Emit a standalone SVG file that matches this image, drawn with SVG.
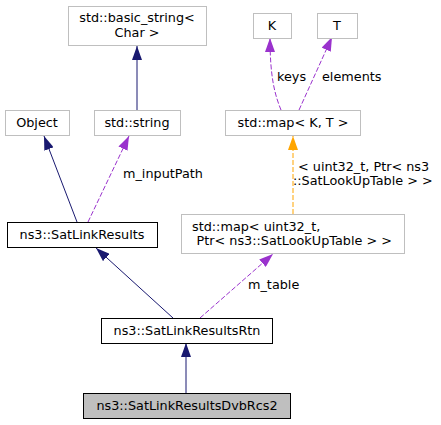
<svg xmlns="http://www.w3.org/2000/svg" width="441" height="425" viewBox="0 0 441 425">
<style>
text{font-family:"DejaVu Sans",sans-serif;font-size:12.8px;fill:#000}
.c{text-anchor:middle}
.box{fill:#fff;stroke:#bfbfbf;stroke-width:1}
.bk{fill:#fff;stroke:#000;stroke-width:1}
.cur{fill:#bfbfbf;stroke:#000;stroke-width:1}
.nv{fill:none;stroke:#191970;stroke-width:1}
.pu{fill:none;stroke:#9a32cd;stroke-width:1;stroke-dasharray:5,2}
.or{fill:none;stroke:#ffa500;stroke-width:1;stroke-dasharray:5,2}
</style>
<defs>
<marker id="an" markerUnits="userSpaceOnUse" markerWidth="14" markerHeight="10" viewBox="0 0 14 10" refX="14" refY="5" orient="auto"><path d="M0,0L14,5L0,10z" fill="#191970"/></marker>
<marker id="ap" markerUnits="userSpaceOnUse" markerWidth="14" markerHeight="10" viewBox="0 0 14 10" refX="14" refY="5" orient="auto"><path d="M0,0L14,5L0,10z" fill="#9a32cd"/></marker>
<marker id="ao" markerUnits="userSpaceOnUse" markerWidth="14" markerHeight="10" viewBox="0 0 14 10" refX="14" refY="5" orient="auto"><path d="M0,0L14,5L0,10z" fill="#ffa500"/></marker>
</defs>
<g id="edges">
<path class="nv" d="M137,110L137,46" marker-end="url(#an)"/>
<path class="nv" d="M77,222L44,136" marker-end="url(#an)"/>
<path class="pu" d="M88,222L129,136" marker-end="url(#ap)"/>
<path class="nv" d="M173,318L96,248" marker-end="url(#an)"/>
<path class="pu" d="M200,318L273,254" marker-end="url(#ap)"/>
<path class="or" d="M293,214L293,136" marker-end="url(#ao)"/>
<path class="pu" d="M281,110C275,95 270,78 270,38" marker-end="url(#ap)"/>
<path class="pu" d="M299,110L332,37" marker-end="url(#ap)"/>
<path class="nv" d="M186,393L186,343" marker-end="url(#an)"/>
<text x="123" y="178">m_inputPath</text>
<text x="277" y="81">keys</text>
<text x="322" y="81">elements</text>
<text x="298" y="171">&lt; uint32_t, Ptr&lt; ns3</text>
<text x="293" y="185">::SatLookUpTable &gt; &gt;</text>
<text x="248" y="289">m_table</text>
</g>
<g id="basic_string"><rect class="box" x="68.5" y="6.5" width="138" height="39"/><text class="c" x="137" y="22">std::basic_string&lt;</text><text class="c" x="137" y="37">Char &gt;</text></g>
<g id="Object"><rect class="box" x="5.5" y="110.5" width="64" height="25"/><text class="c" x="37" y="127">Object</text></g>
<g id="string"><rect class="box" x="94.5" y="110.5" width="86" height="25"/><text class="c" x="137" y="127">std::string</text></g>
<g id="K"><rect class="box" x="253.5" y="13.5" width="38" height="25"/><text class="c" x="272" y="30">K</text></g>
<g id="T"><rect class="box" x="317.5" y="13.5" width="40" height="25"/><text class="c" x="337" y="30">T</text></g>
<g id="mapKT"><rect class="box" x="225.5" y="110.5" width="135" height="25"/><text class="c" x="293" y="127">std::map&lt; K, T &gt;</text></g>
<g id="mapU"><rect class="box" x="181.5" y="214.5" width="223" height="39"/><text x="192" y="231">std::map&lt; uint32_t,</text><text x="196.5" y="245">Ptr&lt; ns3::SatLookUpTable &gt; &gt;</text></g>
<g id="SatLinkResults"><rect class="bk" x="7.5" y="222.5" width="150" height="25"/><text class="c" x="82" y="239">ns3::SatLinkResults</text></g>
<g id="SatLinkResultsRtn"><rect class="bk" x="101.5" y="318.5" width="171" height="25"/><text class="c" x="187" y="335">ns3::SatLinkResultsRtn</text></g>
<g id="SatLinkResultsDvbRcs2"><rect class="cur" x="83.5" y="393.5" width="207" height="25"/><text class="c" x="187" y="410">ns3::SatLinkResultsDvbRcs2</text></g>
</svg>
